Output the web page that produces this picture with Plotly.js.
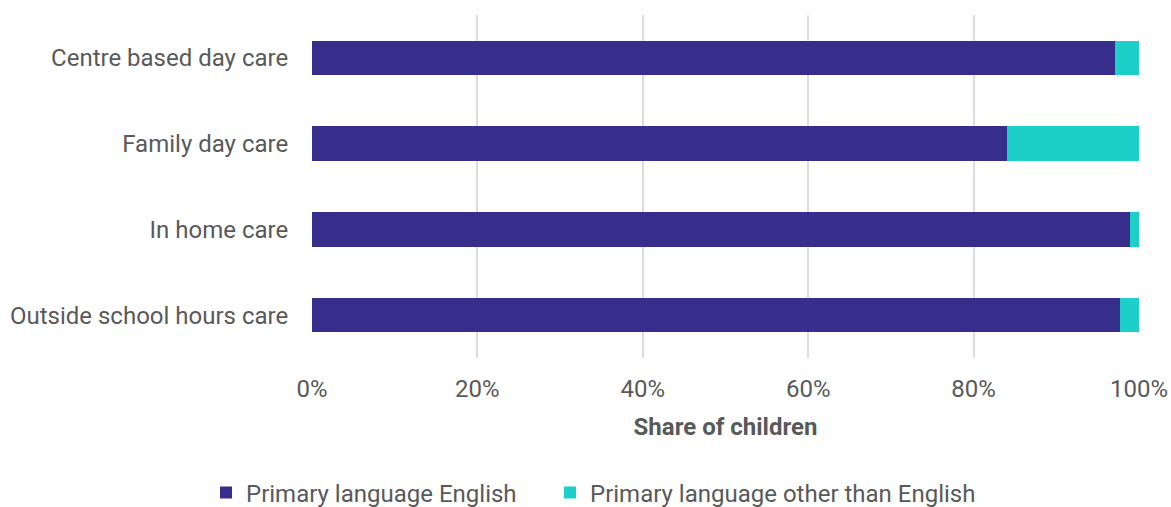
<!DOCTYPE html>
<html><head><meta charset="utf-8">
<script src="https://cdn.plot.ly/plotly-3.0.1.min.js"></script>
<style>html,body{margin:0;padding:0;background:#fff}#chart{width:1171px;height:507px}</style>
</head><body><div id="chart"></div>
<script>
const categories = ["Centre based day care", "Family day care", "In home care", "Outside school hours care"];
const english = [97.1, 84.0, 98.9, 97.7];
const other = [2.9, 16.0, 1.1, 2.3];
const seriesNames = ["Primary language English", "Primary language other than English"];
const tickVals = [0, 20, 40, 60, 80, 100];
const tickText = ["0%", "20%", "40%", "60%", "80%", "100%"];

const W = 1171, H = 507;
const font = {family: "Roboto, sans-serif", size: 24, color: "#595959"};
const data = [
  {type: "bar", orientation: "h", y: categories, x: english, name: seriesNames[0], marker: {color: "#372d8a"}, width: 0.4, legend: "legend"},
  {type: "bar", orientation: "h", y: categories, x: other, name: seriesNames[1], marker: {color: "#1dcfc9"}, width: 0.4, legend: "legend2"}
];
const legBase = {orientation: "h", xref: "container", xanchor: "left", yref: "container", y: (H - 493) / H, yanchor: "middle", font: font, itemwidth: 30, bgcolor: "rgba(0,0,0,0)"};
const layout = {
  width: W, height: H,
  barmode: "stack",
  margin: {l: 312, r: 32, t: 15, b: 149},
  font: font,
  paper_bgcolor: "#fff", plot_bgcolor: "#fff",
  xaxis: {range: [0, 100], tickvals: tickVals, ticktext: tickText, tickangle: 0, showgrid: true, gridcolor: "#dcdcdc", gridwidth: 2,
          zeroline: false, showline: false, ticks: "outside", ticklen: 9, tickcolor: "rgba(0,0,0,0)", tickfont: font,
          title: {text: "<b>Share of children</b>", font: font, standoff: 16}},
  yaxis: {autorange: "reversed", showgrid: false, zeroline: false, ticks: "outside", ticklen: 18, tickcolor: "rgba(0,0,0,0)", tickfont: font},
  legend: Object.assign({}, legBase, {x: 206 / W}),
  legend2: Object.assign({}, legBase, {x: 550 / W}),
  showlegend: true
};
Plotly.newPlot("chart", data, layout, {displayModeBar: false, staticPlot: true});
</script></body></html>
